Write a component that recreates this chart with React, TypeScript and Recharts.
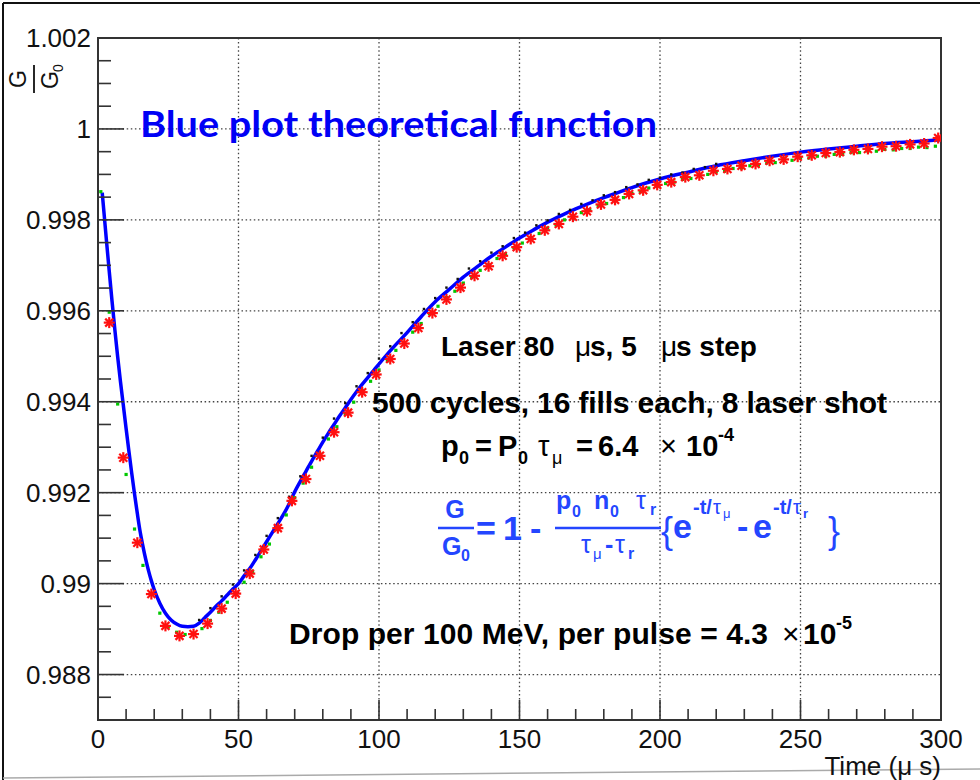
import {
  ComposedChart,
  Line,
  Scatter,
  XAxis,
  YAxis,
  CartesianGrid,
  ReferenceArea,
} from "recharts";

// theoretical function (blue line)
const blueT = [
  1.5, 2, 3, 4, 5, 6, 7, 8, 9, 10, 11, 12, 13, 14, 15, 16, 17, 18, 19, 20, 22, 24, 26, 28, 30, 32, 34,
  36, 38, 40, 42, 44, 46, 48, 50, 52, 54, 56, 58, 60, 62, 64, 66, 68, 70, 72, 74, 76, 78, 80, 82, 84,
  86, 88, 90, 92, 94, 96, 98, 100, 105, 110, 115, 120, 125, 130, 135, 140, 145, 150, 155, 160, 165,
  170, 175, 180, 185, 190, 195, 200, 210, 220, 230, 240, 250, 260, 270, 280, 290, 300,
];
const blueV = [
  0.9986, 0.99825, 0.99755, 0.99687, 0.99621, 0.99558, 0.99499, 0.99444, 0.99393, 0.99341, 0.99291,
  0.99243, 0.99197, 0.99154, 0.99114, 0.99082, 0.99053, 0.99028, 0.99006, 0.98987, 0.98957, 0.98935,
  0.9892, 0.98911, 0.98906, 0.98905, 0.98906, 0.98913, 0.98925, 0.98937, 0.9895, 0.98962, 0.98975,
  0.98988, 0.99, 0.99017, 0.99033, 0.99052, 0.99072, 0.99092, 0.99112, 0.99132, 0.99152, 0.99175,
  0.99202, 0.99225, 0.99247, 0.99269, 0.9929, 0.99311, 0.99331, 0.9935, 0.99369, 0.99387, 0.99405,
  0.99422, 0.99438, 0.99453, 0.99468, 0.99483, 0.99519, 0.99552, 0.99587, 0.9962, 0.99647, 0.99674,
  0.99697, 0.9972, 0.9974, 0.9976, 0.99778, 0.99795, 0.9981, 0.99824, 0.99837, 0.99849, 0.9986,
  0.99871, 0.99881, 0.9989, 0.99905, 0.99919, 0.9993, 0.9994, 0.99949, 0.99956, 0.99962, 0.99968,
  0.99972, 0.99976,
];

// red stars, one every 5 us
const redT = [
  4, 9, 14, 19, 24, 29, 34, 39, 44, 49, 54, 59, 64, 69, 74, 79, 84, 89, 94, 99, 104, 109, 114, 119,
  124, 129, 134, 139, 144, 149, 154, 159, 164, 169, 174, 179, 184, 189, 194, 199, 204, 209, 214, 219,
  224, 229, 234, 239, 244, 249, 254, 259, 264, 269, 274, 279, 284, 289, 294, 299,
];
const redV = [
  0.99574, 0.99277, 0.9909, 0.98977, 0.98907, 0.98885, 0.98889, 0.98912, 0.98945, 0.98978, 0.99022,
  0.99075, 0.99122, 0.99182, 0.9923, 0.99281, 0.99333, 0.99376, 0.99421, 0.9946, 0.99494, 0.99528,
  0.99562, 0.99595, 0.99625, 0.99651, 0.99677, 0.99698, 0.99721, 0.9974, 0.99758, 0.99777, 0.99791,
  0.99807, 0.99819, 0.99834, 0.99844, 0.99857, 0.99865, 0.99877, 0.99883, 0.99894, 0.99898, 0.99908,
  0.99912, 0.99919, 0.99923, 0.9993, 0.99933, 0.99939, 0.99942, 0.99947, 0.99949, 0.99954, 0.99956,
  0.99961, 0.99962, 0.99966, 0.99968, 0.9998,
];

// green points
const greenT = [
  1, 4, 7, 10, 13, 16, 19, 22, 25, 28, 31, 34, 37, 40, 43, 46, 49, 52, 55, 58, 61, 64, 67, 70, 73, 76,
  79, 82, 85, 88, 91, 94, 97, 100, 103, 106, 109, 112, 115, 118, 121, 124, 127, 130, 133, 136, 139,
  142, 145, 148, 151, 154, 157, 160, 163, 166, 169, 172, 175, 178, 181, 184, 187, 190, 193, 196, 199,
  202, 205, 208, 211, 214, 217, 220, 223, 226, 229, 232, 235, 238, 241, 244, 247, 250, 253, 256, 259,
  262, 265, 268, 271, 274, 277, 280, 283, 286, 289, 292, 295, 298,
];
const greenV = [
  0.99862, 0.99597, 0.99395, 0.9924, 0.9912, 0.9904, 0.98978, 0.98935, 0.98905, 0.98893, 0.98888,
  0.98891, 0.98901, 0.98919, 0.98937, 0.98959, 0.98977, 0.99003, 0.99027, 0.99059, 0.99087, 0.99119,
  0.99151, 0.99189, 0.99221, 0.99256, 0.99285, 0.99318, 0.99345, 0.99374, 0.99399, 0.99425, 0.99445,
  0.9947, 0.9949, 0.99513, 0.9953, 0.99553, 0.99572, 0.99594, 0.9961, 0.99629, 0.99643, 0.99661,
  0.99673, 0.99689, 0.99701, 0.99715, 0.99725, 0.99739, 0.99749, 0.99761, 0.9977, 0.99782, 0.99789,
  0.998, 0.99806, 0.99816, 0.99822, 0.99831, 0.99836, 0.99845, 0.99849, 0.99858, 0.99862, 0.9987,
  0.99874, 0.9988, 0.99883, 0.99889, 0.99891, 0.99898, 0.999, 0.99906, 0.99907, 0.99913, 0.99914,
  0.99919, 0.9992, 0.99925, 0.99926, 0.99931, 0.99931, 0.99936, 0.99936, 0.9994, 0.9994, 0.99944,
  0.99944, 0.99948, 0.99948, 0.99951, 0.99951, 0.99955, 0.99954, 0.99957, 0.99957, 0.9996, 0.99959,
  0.99962,
];

// black points
const blackT = [
  36, 40, 44, 48, 52, 56, 60, 64, 68, 72, 76, 80, 84, 88, 92, 96, 100, 104, 108, 112, 116, 120, 124,
  128, 132, 136, 140, 144, 148, 152, 156, 160, 164, 168, 172, 176, 180, 184, 188, 192, 196, 200, 204,
  208, 212, 216, 220,
];
const blackV = [
  0.9892, 0.98946, 0.98972, 0.98998, 0.99029, 0.99063, 0.99105, 0.99144, 0.99191, 0.99236, 0.99281,
  0.99321, 0.99363, 0.99397, 0.99434, 0.99463, 0.99495, 0.99522, 0.99551, 0.99575, 0.99604, 0.99628,
  0.99651, 0.9967, 0.99693, 0.99709, 0.99728, 0.99742, 0.9976, 0.99772, 0.99788, 0.99799, 0.99813,
  0.99822, 0.99835, 0.99843, 0.99854, 0.99861, 0.99872, 0.99878, 0.99888, 0.99893, 0.999, 0.99904,
  0.99912, 0.99916, 0.99923,
];

const xTicks = [
  0, 10, 20, 30, 40, 50, 60, 70, 80, 90, 100, 110, 120, 130, 140, 150, 160, 170, 180, 190, 200, 210,
  220, 230, 240, 250, 260, 270, 280, 290, 300,
];
const xMajor = [0, 50, 100, 150, 200, 250, 300];
const xGrid = [50, 100, 150, 200, 250];
const yTicks = [
  0.9875, 0.988, 0.9885, 0.989, 0.9895, 0.99, 0.9905, 0.991, 0.9915, 0.992, 0.9925, 0.993, 0.9935,
  0.994, 0.9945, 0.995, 0.9955, 0.996, 0.9965, 0.997, 0.9975, 0.998, 0.9985, 0.999, 0.9995, 1,
  1.0005, 1.001, 1.0015, 1.002,
];
const yMajor = [0.988, 0.99, 0.992, 0.994, 0.996, 0.998, 1, 1.002];
const yMajorLabels = ["0.988", "0.99", "0.992", "0.994", "0.996", "0.998", "1", "1.002"];
const yGrid = [0.988, 0.99, 0.992, 0.994, 0.996, 0.998, 1];

const blueData = blueT.map((t, i) => ({ t, v: blueV[i] }));
const redData = redT.map((t, i) => ({ t, v: redV[i] }));
const greenData = greenT.map((t, i) => ({ t, v: greenV[i] }));
const blackData = blackT.map((t, i) => ({ t, v: blackV[i] }));

const SANS = "'Liberation Sans', Arial, Helvetica, sans-serif";
const AXIS = "#333";
const FORMULA = "#2446ff";

function XTick({ x, y, payload }: any) {
  const v = payload.value;
  const major = xMajor.includes(v);
  return (
    <g>
      <line x1={x} x2={x} y1={y} y2={y - (major ? 20 : 11)} stroke={AXIS} strokeWidth={1.6} />
      {major && (
        <text x={x} y={y + 28} textAnchor="middle" fontSize={26} fill="#111" fontFamily={SANS}>
          {v}
        </text>
      )}
    </g>
  );
}

function YTick({ x, y, payload }: any) {
  const v = payload.value;
  const idx = yMajor.findIndex((m) => Math.abs(m - v) < 1e-7);
  const major = idx >= 0;
  return (
    <g>
      <line x1={x} x2={x + (major ? 26 : 13)} y1={y} y2={y} stroke={AXIS} strokeWidth={1.6} />
      {major && (
        <text x={x - 7} y={y} dy="0.36em" textAnchor="end" fontSize={26} fill="#111" fontFamily={SANS}>
          {yMajorLabels[idx]}
        </text>
      )}
    </g>
  );
}

// ROOT marker 3: asterisk
function RedStar({ cx, cy }: any) {
  return (
    <g stroke="#ff1010" strokeWidth={2.2}>
      <line x1={cx - 5.5} x2={cx + 5.5} y1={cy} y2={cy} />
      <line x1={cx} x2={cx} y1={cy - 5.5} y2={cy + 5.5} />
      <line x1={cx - 4} x2={cx + 4} y1={cy - 4} y2={cy + 4} />
      <line x1={cx - 4} x2={cx + 4} y1={cy + 4} y2={cy - 4} />
    </g>
  );
}

function GreenDot({ cx, cy }: any) {
  return <rect x={cx - 1.6} y={cy - 1.6} width={3.2} height={3.2} fill="#00c800" />;
}

function BlackDot({ cx, cy }: any) {
  return <rect x={cx - 1.2} y={cy - 1.2} width={2.4} height={2.4} fill="#111" />;
}

function T({ x, y, s, bold = true, anchor, fill = "#000", children }: any) {
  return (
    <text
      x={x}
      y={y}
      fontSize={s}
      fontWeight={bold ? "bold" : "normal"}
      textAnchor={anchor}
      fill={fill}
    >
      {children}
    </text>
  );
}

function Annotations() {
  return (
    <svg
      width={980}
      height={780}
      style={{ position: "absolute", left: 0, top: 0, pointerEvents: "none" }}
      fontFamily={SANS}
    >
      {/* screenshot border */}
      <line x1={3} y1={3} x2={980} y2={3} stroke="#111" strokeWidth={2} />
      <line x1={3} y1={3} x2={3} y2={780} stroke="#111" strokeWidth={2} />
      <line x1={3} y1={778} x2={980} y2={769} stroke="#aaa" strokeWidth={1.5} />

      {/* y axis title G / G0 */}
      <g transform="translate(34,79) rotate(-90)">
        <T x={0} y={-8} s={23} bold={false} anchor="middle" fill="#111">G</T>
        <line x1={-14} x2={14} y1={0} y2={0} stroke="#111" strokeWidth={1.8} />
        <T x={-10} y={24} s={23} bold={false} fill="#111">G</T>
        <T x={7} y={29} s={14} bold={false} fill="#111">0</T>
      </g>

      <text x={941} y={775} textAnchor="end" fontSize={26} fill="#111">
        Time (μ s)
      </text>

      <text
        x={140}
        y={137}
        fontSize={37}
        fontWeight="bold"
        fill="#0000f5"
        fontFamily="Lato, 'Open Sans', sans-serif"
        textLength={517}
        lengthAdjust="spacingAndGlyphs"
      >
        Blue plot theoretical function
      </text>

      {/* Laser 80 us, 5 us step */}
      <T x={441} y={356} s={28}>Laser 80</T>
      <T x={575} y={356} s={28} bold={false}>μ</T>
      <T x={590} y={356} s={28}>s, 5</T>
      <T x={661} y={356} s={28} bold={false}>μ</T>
      <T x={676} y={356} s={28}>s step</T>

      <text x={372} y={413} fontSize={30} fontWeight="bold" textLength={515}>
        500 cycles, 16 fills each, 8 laser shot
      </text>

      {/* p0 = P0 tau_mu = 6.4 x 10^-4 */}
      <T x={441} y={456} s={29}>p</T>
      <T x={459} y={464} s={18}>0</T>
      <T x={475} y={456} s={29}>=</T>
      <T x={498} y={456} s={29}>P</T>
      <T x={518} y={464} s={18}>0</T>
      <T x={538} y={456} s={29} bold={false}>τ</T>
      <T x={552} y={464} s={18} bold={false}>μ</T>
      <T x={576} y={456} s={29}>=</T>
      <T x={598} y={456} s={29}>6.4</T>
      <T x={660} y={456} s={29} bold={false}>×</T>
      <T x={686} y={456} s={29}>10</T>
      <T x={718} y={441} s={18}>-4</T>

      {/* formula */}
      <g fill={FORMULA}>
        <T x={455} y={518} s={25} anchor="middle" fill={FORMULA}>G</T>
        <line x1={438} x2={474} y1={528} y2={528} stroke={FORMULA} strokeWidth={2.5} />
        <T x={442} y={555} s={25} fill={FORMULA}>G</T>
        <T x={461} y={561} s={16} fill={FORMULA}>0</T>
        <T x={476} y={540} s={34} fill={FORMULA}>=</T>
        <T x={503} y={540} s={34} fill={FORMULA}>1</T>
        <T x={530} y={540} s={34} fill={FORMULA}>-</T>

        <T x={556} y={509} s={25} fill={FORMULA}>p</T>
        <T x={572} y={517} s={16} fill={FORMULA}>0</T>
        <T x={594} y={509} s={25} fill={FORMULA}>n</T>
        <T x={610} y={517} s={16} fill={FORMULA}>0</T>
        <T x={636} y={509} s={25} bold={false} fill={FORMULA}>τ</T>
        <T x={650} y={515} s={16} fill={FORMULA}>r</T>
        <line x1={555} x2={661} y1={528} y2={528} stroke={FORMULA} strokeWidth={2.5} />
        <T x={581} y={553} s={25} bold={false} fill={FORMULA}>τ</T>
        <T x={593} y={559} s={15} bold={false} fill={FORMULA}>μ</T>
        <T x={605} y={553} s={25} fill={FORMULA}>-</T>
        <T x={615} y={553} s={25} bold={false} fill={FORMULA}>τ</T>
        <T x={628} y={559} s={16} fill={FORMULA}>r</T>

        <T x={661} y={543} s={36} bold={false} fill={FORMULA}>{"{"}</T>
        <T x={673} y={538} s={34} fill={FORMULA}>e</T>
        <T x={693} y={514} s={20} fill={FORMULA}>-t/</T>
        <T x={713} y={514} s={20} bold={false} fill={FORMULA}>τ</T>
        <T x={723} y={518} s={13} bold={false} fill={FORMULA}>μ</T>
        <T x={737} y={538} s={34} fill={FORMULA}>-</T>
        <T x={753} y={538} s={34} fill={FORMULA}>e</T>
        <T x={773} y={514} s={20} fill={FORMULA}>-t/</T>
        <T x={793} y={514} s={20} bold={false} fill={FORMULA}>τ</T>
        <T x={803} y={518} s={13} fill={FORMULA}>r</T>
        <T x={828} y={543} s={36} bold={false} fill={FORMULA}>{"}"}</T>
      </g>

      {/* Drop per 100 MeV */}
      <text x={289} y={644} fontSize={30} fontWeight="bold" textLength={479}>
        Drop per 100 MeV, per pulse = 4.3
      </text>
      <T x={782} y={644} s={30} bold={false}>×</T>
      <T x={803} y={644} s={30}>10</T>
      <T x={836} y={629} s={18}>-5</T>
    </svg>
  );
}

export default function App() {
  return (
    <div
      style={{
        position: "absolute",
        left: 0,
        top: 0,
        width: 980,
        height: 780,
        background: "#fff",
        fontFamily: SANS,
      }}
    >
      <ComposedChart width={980} height={780} margin={{ top: 38, right: 39, bottom: 0, left: 0 }}>
        <CartesianGrid
          stroke="#444"
          strokeWidth={1.3}
          strokeDasharray="1.5 2.6"
          verticalValues={xGrid}
          horizontalValues={yGrid}
        />
        <XAxis
          type="number"
          dataKey="t"
          domain={[0, 300]}
          ticks={xTicks}
          interval={0}
          tickSize={0}
          tickMargin={0}
          height={60}
          tick={XTick}
          tickLine={false}
          axisLine={{ stroke: AXIS, strokeWidth: 2 }}
          allowDataOverflow
        />
        <YAxis
          type="number"
          dataKey="v"
          domain={[0.987, 1.002]}
          ticks={yTicks}
          interval={0}
          tickSize={0}
          tickMargin={0}
          width={98}
          tick={YTick}
          tickLine={false}
          axisLine={{ stroke: AXIS, strokeWidth: 2 }}
          allowDataOverflow
        />
        <Scatter data={greenData} dataKey="v" shape={GreenDot} isAnimationActive={false} />
        <Scatter data={blackData} dataKey="v" shape={BlackDot} isAnimationActive={false} />
        <Scatter data={redData} dataKey="v" shape={RedStar} isAnimationActive={false} />
        <Line
          data={blueData}
          dataKey="v"
          type="monotone"
          stroke="#0000ff"
          strokeWidth={3.5}
          dot={false}
          isAnimationActive={false}
        />
        <ReferenceArea
          x1={0}
          x2={300}
          y1={0.987}
          y2={1.002}
          fill="none"
          stroke={AXIS}
          strokeWidth={2}
          fillOpacity={0}
        />
      </ComposedChart>
      <Annotations />
    </div>
  );
}
